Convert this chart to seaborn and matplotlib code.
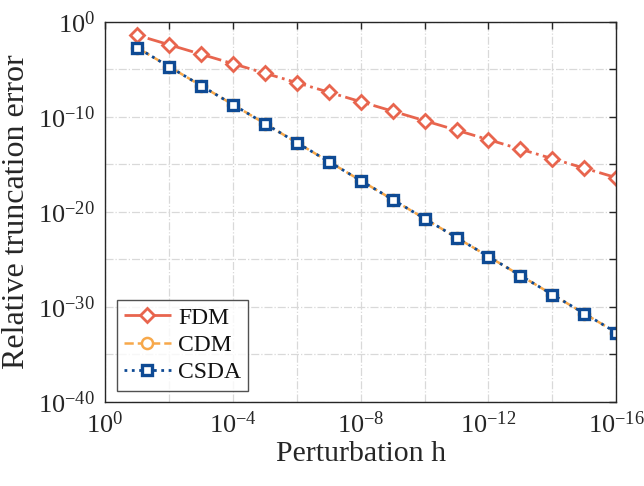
import numpy as np
import pandas as pd
import matplotlib
matplotlib.use("Agg")
import matplotlib.pyplot as plt
import seaborn as sns
from matplotlib.ticker import FixedLocator

# data: perturbation h and relative truncation errors
h = [1e-1, 1e-2, 1e-3, 1e-4, 1e-5, 1e-6, 1e-7, 1e-8,
     1e-9, 1e-10, 1e-11, 1e-12, 1e-13, 1e-14, 1e-15, 1e-16]
fdm = [4.0e-2, 4.0e-3, 4.0e-4, 4.0e-5, 4.0e-6, 4.0e-7, 4.0e-8, 4.0e-9,
       4.0e-10, 4.0e-11, 4.0e-12, 4.0e-13, 4.0e-14, 4.0e-15, 4.0e-16, 4.0e-17]
cdm = [2.0e-3, 2.0e-5, 2.0e-7, 2.0e-9, 2.0e-11, 2.0e-13, 2.0e-15, 2.0e-17,
       2.0e-19, 2.0e-21, 2.0e-23, 2.0e-25, 2.0e-27, 2.0e-29, 2.0e-31, 2.0e-33]
csda = [2.0e-3, 2.0e-5, 2.0e-7, 2.0e-9, 2.0e-11, 2.0e-13, 2.0e-15, 2.0e-17,
        2.0e-19, 2.0e-21, 2.0e-23, 2.0e-25, 2.0e-27, 2.0e-29, 2.0e-31, 2.0e-33]
x_tick_labels = [r"$10^{0}$", r"$10^{-4}$", r"$10^{-8}$", r"$10^{-12}$", r"$10^{-16}$"]
y_tick_labels = [r"$10^{-40}$", r"$10^{-30}$", r"$10^{-20}$", r"$10^{-10}$", r"$10^{0}$"]

sns.set_theme(style="white")
plt.rcParams["font.family"] = ["Liberation Serif", "DejaVu Serif"]
plt.rcParams["mathtext.fontset"] = "custom"
plt.rcParams["mathtext.rm"] = "Liberation Serif"
plt.rcParams["mathtext.it"] = "Liberation Serif:italic"
plt.rcParams["mathtext.bf"] = "Liberation Serif:bold"

df = pd.DataFrame({"h": h, "FDM": fdm, "CDM": cdm, "CSDA": csda})

fig = plt.figure(figsize=(6.44, 4.86), dpi=100)
ax = fig.add_axes([0.163, 0.173, 0.794, 0.782])

c_fdm = "#E8654E"
c_cdm = "#F7A84A"
c_csda = "#0E4A94"

sns.lineplot(data=df, x="h", y="FDM", ax=ax, color=c_fdm, linestyle="-.",
             linewidth=2.0, marker="D", markersize=7, markerfacecolor="white",
             markeredgecolor=c_fdm, markeredgewidth=2.0, label="FDM")
sns.lineplot(data=df, x="h", y="CDM", ax=ax, color=c_cdm, linestyle="--",
             linewidth=1.8, marker="o", markersize=8, markerfacecolor="white",
             markeredgecolor=c_cdm, markeredgewidth=1.8, label="CDM")
sns.lineplot(data=df, x="h", y="CSDA", ax=ax, color=c_csda, linestyle=":",
             linewidth=2.0, marker="s", markersize=6.5, markerfacecolor="white",
             markeredgecolor=c_csda, markeredgewidth=2.4, label="CSDA")

ax.set_xscale("log")
ax.set_yscale("log")
ax.set_xlim(1e0, 1e-16)
ax.set_ylim(1e-40, 1e0)

xt = [10.0 ** (-k) for k in range(0, 17, 2)]
ax.xaxis.set_major_locator(FixedLocator(xt))
ax.xaxis.set_minor_locator(FixedLocator([]))
lab_x = {0: x_tick_labels[0], 4: x_tick_labels[1], 8: x_tick_labels[2],
         12: x_tick_labels[3], 16: x_tick_labels[4]}
ax.set_xticklabels([lab_x.get(k, "") for k in range(0, 17, 2)])

yt = [10.0 ** (-k) for k in range(40, -1, -5)]
ax.yaxis.set_major_locator(FixedLocator(yt))
ax.yaxis.set_minor_locator(FixedLocator([]))
lab_y = {40: y_tick_labels[0], 30: y_tick_labels[1], 20: y_tick_labels[2],
         10: y_tick_labels[3], 0: y_tick_labels[4]}
ax.set_yticklabels([lab_y.get(k, "") for k in range(40, -1, -5)])

ax.grid(True, which="major", color="#D9D9D9", linestyle="-.", linewidth=0.9)
ax.tick_params(axis="both", which="major", direction="in", length=5, width=1.0,
               top=True, right=True, labelsize=19, colors="#262626",
               labelcolor="#262626", pad=7)
for sp in ax.spines.values():
    sp.set_color("#262626")
    sp.set_linewidth(1.0)

ax.set_xlabel("Perturbation h", fontsize=21.5, color="#262626", labelpad=2)
ax.set_ylabel("Relative truncation error", fontsize=23, color="#262626", labelpad=5)

leg = ax.legend(loc="lower left", bbox_to_anchor=(0.023, 0.03), fontsize=17,
                frameon=True, fancybox=False, edgecolor="#262626",
                handlelength=2.0, handletextpad=0.3, borderpad=0.3,
                labelspacing=0.25, borderaxespad=0)
leg.get_frame().set_linewidth(1.0)
for t in leg.get_texts():
    t.set_color("#111111")

fig.savefig("out.png", dpi=100)
